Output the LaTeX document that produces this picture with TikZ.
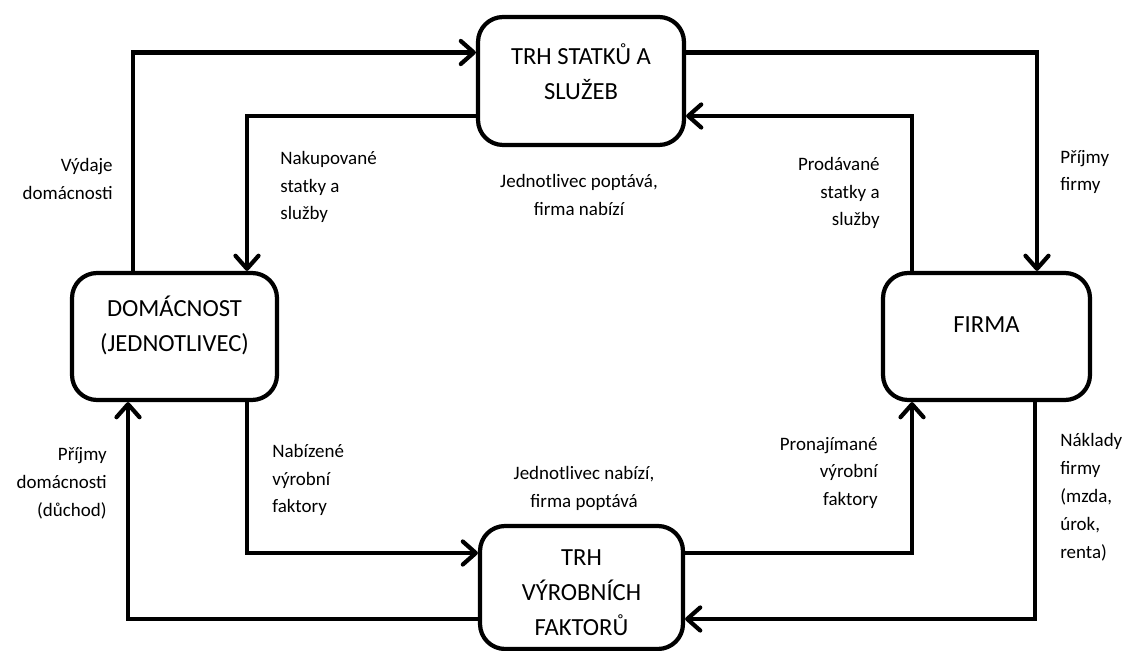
\documentclass[tikz,border=0pt]{standalone}
\usepackage{fontspec}
\setmainfont{Carlito}
\usetikzlibrary{arrows.meta}

\tikzset{
  box/.style={draw, line width=2.4pt, rounded corners=0.5cm, inner sep=0pt},
  boxtext/.style={font=\fontsize{14}{19.9}\selectfont, align=center, inner sep=0pt},
  note/.style={font=\fontsize{10.8}{15.9}\selectfont, inner sep=0pt},
  flow/.style={line width=2.4pt, -{Straight Barb[round,length=2.6mm,width=4.6mm]}}
}

\begin{document}
\begin{tikzpicture}[x=0.02cm, y=-0.02cm]
  \useasboundingbox (0,0) rectangle (1125,651);

  %%%%%%%%%%%%%The four boxes%%%%%%%%%%%%%%%%%%%%%%
  \node[box, minimum width=4.12cm, minimum height=2.56cm,
        label={[boxtext, yshift=0.19cm]center:TRH STATKŮ A\\SLUŽEB}] (trhs) at (581,81) {};
  \node[box, minimum width=4.1cm, minimum height=2.54cm,
        label={[boxtext, yshift=0.23cm]center:DOMÁCNOST\\(JEDNOTLIVEC)}] (dom) at (174.5,336.5) {};
  \node[box, minimum width=4.14cm, minimum height=2.54cm,
        label={[boxtext, yshift=0.23cm]center:FIRMA}] (firma) at (986.5,336.5) {};
  \node[box, minimum width=4.06cm, minimum height=2.46cm,
        label={[boxtext, yshift=-0.11cm]center:TRH\\VÝROBNÍCH\\FAKTORŮ}] (trhv) at (581.5,587.5) {};

  %%%%%%%%%%%%%Flows round the top market%%%%%%%%%%%%%%%%%%%%%%
  \draw[flow] ([xshift=-0.83cm]dom.north) |- ([yshift=0.57cm]trhs.west);
  \draw[flow] ([yshift=-0.70cm]trhs.west) -| ([xshift=1.45cm]dom.north);
  \draw[flow] ([yshift=0.57cm]trhs.east) -| ([xshift=1.01cm]firma.north);
  \draw[flow] ([xshift=-1.49cm]firma.north) |- ([yshift=-0.70cm]trhs.east);

  %%%%%%%%%%%%%Flows round the bottom market%%%%%%%%%%%%%%%%%%%%%%
  \draw[flow] ([xshift=1.45cm]dom.south) |- ([yshift=0.69cm]trhv.west);
  \draw[flow] ([yshift=0.69cm]trhv.east) -| ([xshift=-1.49cm]firma.south);
  \draw[flow] ([xshift=0.97cm]firma.south) |- ([yshift=-0.63cm]trhv.east);
  \draw[flow] ([yshift=-0.63cm]trhv.west) -| ([xshift=-0.93cm]dom.south);

  %%%%%%%%%%%%%Labels%%%%%%%%%%%%%%%%%%%%%%
  \node[note, align=right, anchor=east] (vydaje) at (113,179) {Výdaje\\domácnosti};
  \node[note, align=left, anchor=west] (nakup) at (280,187) {Nakupované\\statky a\\služby};
  \node[note, align=center] (poptava) at (579,195) {Jednotlivec poptává,\\firma nabízí};
  \node[note, align=right, anchor=east] (prodej) at (880,193) {Prodávané\\statky a\\služby};
  \node[note, align=left, anchor=west] (prijfirm) at (1060,172) {Příjmy\\firmy};

  \node[note, align=right, anchor=east] (prijdom) at (107,483) {Příjmy\\domácnosti\\(důchod)};
  \node[note, align=left, anchor=west] (nabiz) at (272,480) {Nabízené\\výrobní\\faktory};
  \node[note, align=center] (nabizi) at (584,488) {Jednotlivec nabízí,\\firma poptává};
  \node[note, align=right, anchor=east] (pronaj) at (878,473) {Pronajímané\\výrobní\\faktory};
  \node[note, align=left, anchor=west] (naklady) at (1060,497) {Náklady\\firmy\\(mzda,\\úrok,\\renta)};
\end{tikzpicture}
\end{document}
